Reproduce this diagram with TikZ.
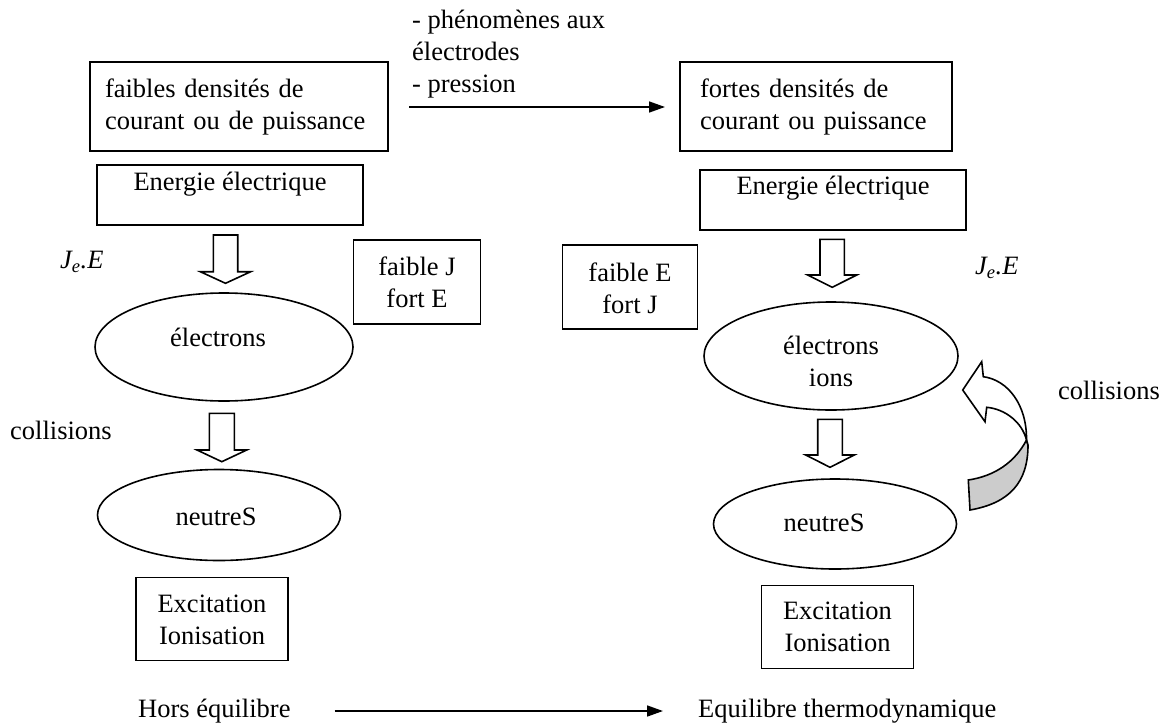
\documentclass[tikz,border=0pt]{standalone}
\usepackage{fontspec}
\setmainfont{Liberation Serif}
\usetikzlibrary{arrows.meta,shapes.geometric}
\begin{document}
\begin{tikzpicture}[x=1pt,y=-1pt,
  every node/.style={font=\fontsize{26.5}{32}\selectfont},
  box/.style={draw,line width=1.6pt,inner sep=0pt},
  ell/.style={draw,ellipse,line width=1.6pt,inner sep=0pt},
  txt/.style={inner sep=0pt,align=center},
  ltxt/.style={inner sep=0pt,align=left,anchor=west},
  thinarrow/.style={line width=1.6pt,-{Triangle[length=16pt,width=11pt]}},
  blockarrow/.style={draw,line width=1.6pt,fill=white,line join=miter},
  ribbon/.style={draw,line width=1.6pt,line join=miter}]
\useasboundingbox (0,0) rectangle (1166,725);

% left column
\node[box,minimum width=298,minimum height=89,text width=268,inner xsep=15,align=left] (b1) at (239,106.5) {faibles densités de\\courant ou de puissance};
\node[box,minimum width=266,minimum height=60] (en1) at (230,195) {};
\node[txt] (en1t) at (230,184) {Energie électrique};
\node[box,minimum width=127,minimum height=84] (fj) at (417,282) {};
\node[txt] (fjt) at (417,282) {faible J\\fort E};
\node[ell,minimum width=258,minimum height=108] (el1) at (224,347) {};
\node[txt] (el1t) at (218,337) {électrons};
\node[ell,minimum width=243,minimum height=91] (ne1) at (219,515) {};
\node[txt] (ne1t) at (216,517) {neutreS};
\node[box,minimum width=152,minimum height=83] (ex1) at (212,619) {};
\node[txt] (ex1t) at (212,619.5) {Excitation\\Ionisation};
\node[ltxt] (je1) at (60,262) {\itshape J\textsubscript{e}.E};
\node[ltxt] (co1) at (10,430) {collisions};

% right column
\node[box,minimum width=272,minimum height=89,text width=232,inner xsep=20,align=left] (b2) at (816,106.5) {fortes densités de\\courant ou puissance};
\node[box,minimum width=266,minimum height=60] (en2) at (833,200) {};
\node[txt] (en2t) at (833,188) {Energie électrique};
\node[box,minimum width=135,minimum height=84] (fe) at (630,287) {};
\node[txt] (fet) at (630,288) {faible E\\fort J};
\node[ell,minimum width=254,minimum height=108] (el2) at (831,356) {};
\node[txt] (el2t) at (831,361) {électrons\\ions};
\node[ell,minimum width=243,minimum height=90] (ne2) at (835,524) {};
\node[txt] (ne2t) at (824,523) {neutreS};
\node[box,minimum width=152,minimum height=83] (ex2) at (837.5,627) {};
\node[txt] (ex2t) at (837.5,627) {Excitation\\Ionisation};
\node[ltxt] (je2) at (975,268) {\itshape J\textsubscript{e}.E};
\node[ltxt] (co2) at (1058,390) {collisions};

% top connector
\node[ltxt] (pt) at (412,54) {- phénomènes aux\\électrodes\\- pression};
\coordinate (a1) at (409,107);
\coordinate (a2) at (665,107);
\draw[thinarrow] (a1) -- (a2);

% bottom
\node[ltxt] (hors) at (138,711) {Hors équilibre};
\node[ltxt] (eq) at (698,711) {Equilibre thermodynamique};
\draw[thinarrow] ([xshift=44pt]hors.east) -- ([xshift=-35pt]eq.west);

% block arrows
\draw[blockarrow] (213.3,235) -- (237.7,235) -- (237.7,271.7) -- (250.7,271.7) -- (225.5,283.3) -- (200.3,271.7) -- (213.3,271.7) -- cycle;
\draw[blockarrow] (209.3,413.3) -- (234.3,413.3) -- (234.3,450) -- (246.7,450) -- (221.8,461.7) -- (197,450) -- (209.3,450) -- cycle;
\draw[blockarrow] (820,239.3) -- (844.3,239.3) -- (844.3,275) -- (856.7,275) -- (832.2,287.3) -- (807.7,275) -- (820,275) -- cycle;
\draw[blockarrow] (817.7,419.3) -- (842.3,419.3) -- (842.3,455) -- (854.3,455) -- (830,467.3) -- (805.7,455) -- (817.7,455) -- cycle;

% curved arrow
\draw[ribbon,fill=black!20] (968.3,480) -- (970,510) .. controls (1010,503) and (1028,482) .. (1028,445) -- (1026.5,440) .. controls (1015,462) and (995,476) .. (968.3,480) -- cycle;
\draw[ribbon,fill=white] (1026.5,440) .. controls (1027,405) and (1008,380) .. (983.3,376.7) -- (981.7,361.7) -- (962.7,390) -- (985,421.7) -- (986.7,407.3) .. controls (1005,409) and (1022,422) .. (1026.5,440) -- cycle;
\end{tikzpicture}
\end{document}
